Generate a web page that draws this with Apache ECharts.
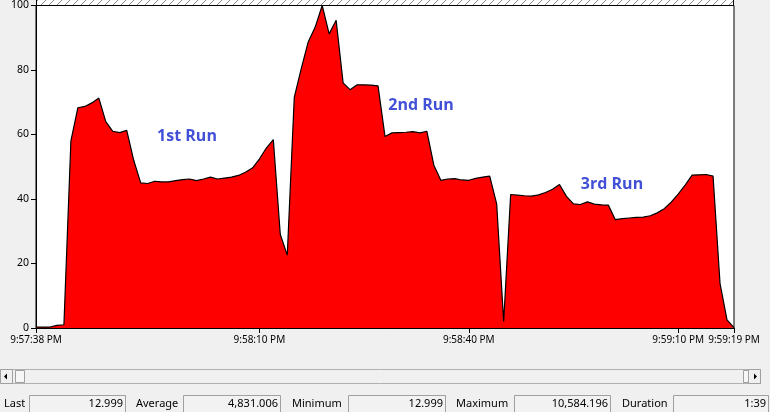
<!DOCTYPE html>
<html>
<head>
<meta charset="utf-8">
<script src="https://cdn.jsdelivr.net/npm/echarts@6/dist/echarts.min.js"></script>
<style>
html,body{margin:0;padding:0;background:#f0f0f0;}
#chart{width:770px;height:412px;}
</style>
</head>
<body>
<div id="chart"></div>
<script>
// sample index (one sample per second, roughly)
const sampleCount = 101;
const values = [
  0.3,0.3,0.3,0.8,1.0,58,68.3,68.7,69.8,71.3,
  64,61,60.6,61.3,52,45,44.8,45.5,45.3,45.3,
  45.7,46,46.2,45.7,46.2,46.8,46.2,46.5,46.8,47.3,
  48.3,49.6,52.4,55.8,58.4,29,22.6,71.5,80.4,88.7,
  93.3,100,91.2,95.4,76,73.9,75.4,75.4,75.3,75.1,
  59.4,60.5,60.6,60.7,60.9,60.5,61,50.5,45.8,46.2,
  46.3,45.9,45.8,46.4,46.8,47.1,38.5,2,41.4,41.2,
  41,40.9,41.3,42,43,44.5,40.8,38.5,38.3,39.1,
  38.4,38.2,38.1,33.6,33.9,34.1,34.3,34.4,34.8,35.7,
  37,39,41.5,44.3,47.4,47.5,47.6,47.1,13.8,2.5,
  0.12
];
const tickIndex = [0, 32, 62, 92, 100];
const tickLabels = ['9:57:38 PM', '9:58:10 PM', '9:58:40 PM', '9:59:10 PM', '9:59:19 PM'];
const yTicks = [0, 20, 40, 60, 80, 100];
const runLabels = ['1st Run', '2nd Run', '3rd Run'];
const statNames = ['Last', 'Average', 'Minimum', 'Maximum', 'Duration'];
const statValues = ['12.999', '4,831.006', '12.999', '10,584.196', '1:39'];

const categories = [];
for (let i = 0; i < sampleCount; i++) categories.push(String(i));
function tickText(i) {
  const k = tickIndex.indexOf(+i);
  return k >= 0 ? tickLabels[k] : '';
}

// hatch pattern
const pc = document.createElement('canvas');
pc.width = 8; pc.height = 5;
const pctx = pc.getContext('2d');
pctx.fillStyle = '#ffffff'; pctx.fillRect(0,0,8,5);
pctx.strokeStyle = '#8a8a8a'; pctx.lineWidth = 1;
pctx.beginPath(); pctx.moveTo(1,5); pctx.lineTo(6,0); pctx.stroke();

const chart = echarts.init(document.getElementById('chart'), null, {renderer:'canvas'});
const uiFont = '11px "Noto Sans", sans-serif';
const graphics = [];
// hatched band above the plot
graphics.push({type:'rect', shape:{x:36, y:0, width:698, height:5}, style:{fill:{image:pc, repeat:'repeat'}}, z:10});
graphics.push({type:'line', shape:{x1:36.5, y1:0, x2:36.5, y2:6}, style:{stroke:'#000', lineWidth:1}, z:11});
graphics.push({type:'line', shape:{x1:733.5, y1:0, x2:733.5, y2:6}, style:{stroke:'#000', lineWidth:1}, z:11});
// run annotations
const runPos = [[187,136],[421,105],[612,184]];
runLabels.forEach((t,i)=>{
  graphics.push({type:'text', x:runPos[i][0], y:runPos[i][1], z:20,
    style:{text:t, fill:'#4150d6', font:'bold 16px "Open Sans", "Noto Sans", sans-serif', align:'center', verticalAlign:'middle', textAlign:'center', textVerticalAlign:'middle'}});
});
// scrollbar
graphics.push({type:'rect', shape:{x:0.5, y:369.5, width:760, height:14}, style:{fill:'#f0f0f0', stroke:'#b0b0b0'}});
graphics.push({type:'rect', shape:{x:0.5, y:369.5, width:12, height:14}, style:{fill:'#f0f0f0', stroke:'#a0a0a0'}});
graphics.push({type:'polygon', shape:{points:[[4,376.5],[7,373.5],[7,379.5]]}, style:{fill:'#000'}});
graphics.push({type:'rect', shape:{x:15.5, y:370.5, width:9, height:12}, style:{fill:'#f6f6f6', stroke:'#a0a0a0'}});
graphics.push({type:'rect', shape:{x:743.5, y:370.5, width:5, height:12}, style:{fill:'#f6f6f6', stroke:'#a0a0a0'}});
graphics.push({type:'rect', shape:{x:748.5, y:369.5, width:12, height:14}, style:{fill:'#f0f0f0', stroke:'#a0a0a0'}});
graphics.push({type:'polygon', shape:{points:[[757,376.5],[754,373.5],[754,379.5]]}, style:{fill:'#000'}});
// status bar
const nameX = [4, 136, 292, 456, 622];
const boxX = [29, 183, 348, 514, 673];
const boxW = [96, 97, 97, 96, 95];
statNames.forEach((n,i)=>{
  graphics.push({type:'text', x:nameX[i], y:404, style:{text:n, fill:'#000', font:uiFont, align:'left', verticalAlign:'middle', textVerticalAlign:'middle'}});
  graphics.push({type:'rect', shape:{x:boxX[i]+0.5, y:395.5, width:boxW[i], height:20}, style:{fill:'#f2f2f2', stroke:'#a0a0a0'}});
  graphics.push({type:'text', x:boxX[i]+boxW[i]-2, y:404, style:{text:statValues[i], fill:'#000', font:uiFont, align:'right', textAlign:'right', verticalAlign:'middle', textVerticalAlign:'middle'}});
});

chart.setOption({
  backgroundColor:'#f0f0f0',
  animation:false,
  grid:{left:36, right:36, top:5, bottom:84, show:true, backgroundColor:'#ffffff', borderColor:'#000', borderWidth:1},
  xAxis:{
    type:'category', data:categories, boundaryGap:false,
    axisLine:{show:true, lineStyle:{color:'#000', width:1}},
    axisTick:{show:true, length:5, lineStyle:{color:'#000'}, interval:(i)=>tickIndex.indexOf(i)>=0},
    axisLabel:{interval:(i)=>tickIndex.indexOf(i)>=0, formatter:(v)=>tickText(v), color:'#000', fontFamily:'"Noto Sans", sans-serif', fontSize:10, margin:7, hideOverlap:false},
    splitLine:{show:false}
  },
  yAxis:{
    type:'value', min:0, max:100, interval:20,
    axisLine:{show:true, lineStyle:{color:'#000', width:1}},
    axisTick:{show:true, length:5, lineStyle:{color:'#000'}},
    axisLabel:{color:'#000', fontFamily:'"Noto Sans", sans-serif', fontSize:10.5, margin:7,
      formatter:(v)=> yTicks.indexOf(v)>=0 ? String(v) : ''},
    splitLine:{show:false}
  },
  series:[{
    type:'line', data:values, symbol:'none', smooth:false,
    lineStyle:{color:'#000', width:1.2},
    areaStyle:{color:'#ff0000', opacity:1}
  }],
  graphic:graphics
});
</script>
</body>
</html>
